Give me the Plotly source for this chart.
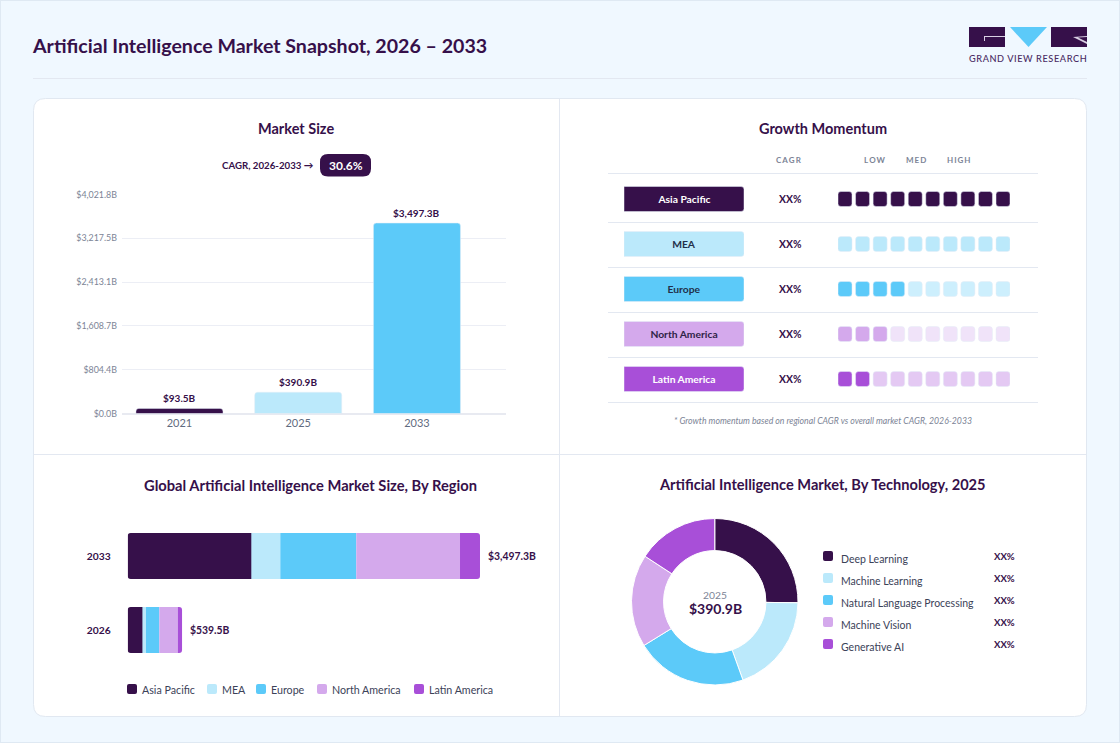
import plotly.graph_objects as go

W, H = 1120, 743
FONT = "Lato"
DARK = "#36104A"
SKY = "#BBE9FB"
BLUE = "#5CCAF9"
LILAC = "#D4A9EC"
PURPLE = "#A84FD8"
GREY = "#7C8496"
LINE = "#E3E8F1"

# ---- data ----
market_years = ["2021", "2025", "2033"]
market_values = [93.5, 390.9, 3497.3]
market_labels = ["$93.5B", "$390.9B", "$3,497.3B"]
market_colors = [DARK, SKY, BLUE]
market_ticks = [0, 804.4, 1608.7, 2413.1, 3217.5, 4021.8]
market_ticktext = ["$0.0B", "$804.4B", "$1,608.7B", "$2,413.1B", "$3,217.5B", "$4,021.8B"]

regions = ["Asia Pacific", "MEA", "Europe", "North America", "Latin America"]
region_colors = [DARK, SKY, BLUE, LILAC, PURPLE]
region_faded = ["#36104A", "#BBE9FB", "#CDEFFD", "#F0E3F9", "#E4C9F3"]
region_text = ["#FFFFFF", "#22304A", "#22304A", "#2F2347", "#FFFFFF"]
momentum_filled = [10, 10, 4, 3, 2]
momentum_total = 10
cagr_labels = ["XX%", "XX%", "XX%", "XX%", "XX%"]

stack_years = ["2033", "2026"]
stack_values = {
    "Asia Pacific": [1227, 146],
    "MEA": [288, 36],
    "Europe": [754, 132],
    "North America": [1030, 185],
    "Latin America": [198.3, 40.5],
}
stack_totals = [3497.3, 539.5]
stack_labels = ["$3,497.3B", "$539.5B"]

tech_names = ["Deep Learning", "Machine Learning", "Natural Language Processing", "Machine Vision", "Generative AI"]
tech_shares = [25.2, 19.3, 21.7, 18.0, 15.8]
tech_labels = ["XX%", "XX%", "XX%", "XX%", "XX%"]


def px(x):
    return x / W


def py(y):
    return 1 - y / H


def dx(a, b):
    return [px(a), px(b)]


def dy(top, bottom):
    return [py(bottom), py(top)]


def rrect(x0, y0, x1, y1, r, fill, line=None, lw=0):
    xa, xb, ya, yb = px(x0), px(x1), py(y0), py(y1)
    rx, ry = r / W, r / H
    path = (f"M{xa+rx},{ya} L{xb-rx},{ya} Q{xb},{ya} {xb},{ya-ry} L{xb},{yb+ry} Q{xb},{yb} {xb-rx},{yb} "
            f"L{xa+rx},{yb} Q{xa},{yb} {xa},{yb+ry} L{xa},{ya-ry} Q{xa},{ya} {xa+rx},{ya} Z")
    return dict(type="path", xref="paper", yref="paper", path=path, fillcolor=fill,
                line=dict(color=line or fill, width=lw), layer="below")


def hline(x0, x1, y, color=LINE, width=1):
    return dict(type="line", xref="paper", yref="paper", x0=px(x0), x1=px(x1), y0=py(y), y1=py(y),
                line=dict(color=color, width=width), layer="below")


def vline(x, y0, y1, color=LINE, width=1):
    return dict(type="line", xref="paper", yref="paper", x0=px(x), x1=px(x), y0=py(y0), y1=py(y1),
                line=dict(color=color, width=width), layer="below")


def poly(points, fill):
    p = "M" + " L".join(f"{px(a)},{py(b)}" for a, b in points) + " Z"
    return dict(type="path", xref="paper", yref="paper", path=p, fillcolor=fill, line=dict(width=0), layer="below")


def label(x, y, text, size, color=DARK, weight=400, anchor="center", style="normal"):
    return dict(xref="paper", yref="paper", x=px(x - 2 if anchor == "left" else x), y=py(y), text=text, showarrow=False,
                xanchor=anchor, yanchor="middle", font=dict(family=FONT, size=size, color=color, weight=weight, style=style))


fig = go.Figure()

# Market size bars
fig.add_bar(x=market_years, y=market_values, xaxis="x", yaxis="y", width=0.733,
            marker=dict(color=market_colors, cornerradius=3), cliponaxis=False, showlegend=False)

# Region pills
fig.add_bar(y=regions, x=[1] * len(regions), orientation="h", xaxis="x2", yaxis="y2", width=25 / 45,
            marker=dict(color=region_colors, cornerradius=3),
            text=regions, textposition="inside", insidetextanchor="middle", textangle=0,
            textfont=dict(family=FONT, size=10.3, color=region_text, weight=700), showlegend=False)

# Momentum segments
seg_y, seg_base, seg_color = [], [], []
for r, f, c, fade in zip(regions, momentum_filled, region_colors, region_faded):
    for i in range(momentum_total):
        seg_y.append(r)
        seg_base.append(i)
        seg_color.append(c if i < f else fade)
fig.add_bar(y=seg_y, x=[0.797] * len(seg_y), base=seg_base, orientation="h", xaxis="x3", yaxis="y2",
            width=15 / 45, marker=dict(color=seg_color, cornerradius=3), showlegend=False)

# Stacked regional bars: the two ends are rounded and slip under their inner neighbours
OVERLAP = 40
starts = {}
run = [0, 0]
for r in regions:
    starts[r] = list(run)
    run = [a + b for a, b in zip(run, stack_values[r])]
for r, c in [("Asia Pacific", DARK), ("Latin America", PURPLE), ("MEA", SKY), ("Europe", BLUE), ("North America", LILAC)]:
    vals = stack_values[r]
    base = starts[r]
    rad = 0
    if r == "Asia Pacific":
        vals = [v + OVERLAP for v in vals]
        rad = 3
    if r == "Latin America":
        base = [b - OVERLAP for b in base]
        vals = [v + OVERLAP for v in vals]
        rad = 3
    fig.add_bar(y=stack_years, x=vals, base=base, orientation="h", xaxis="x4", yaxis="y4", name=r,
                width=46 / 74, marker=dict(color=c, line=dict(width=0), cornerradius=rad), showlegend=False)

# Donut
fig.add_pie(labels=tech_names, values=tech_shares, hole=0.615, sort=False, direction="clockwise", rotation=0,
            marker=dict(colors=region_colors, line=dict(color="#FFFFFF", width=1)), textinfo="none",
            domain=dict(x=dx(631.5, 798), y=dy(518.5, 685)), showlegend=False)

shapes = [
    dict(type="rect", xref="paper", yref="paper", x0=0, x1=1, y0=0, y1=1, fillcolor="#F0F8FF",
         line=dict(color="#DFE9F3", width=2), layer="below"),
    hline(33, 1087, 78.5),
    rrect(33.5, 98.5, 1086.5, 716.5, 12, "#FFFFFF", "#E1E8F1", 1),
    vline(559.5, 99, 716),
    hline(34, 1086, 454.5),
    # logo
    poly([(969, 27), (1005, 27), (1005, 47), (969, 47)], DARK),
    hline(984, 1005, 36.5, "#D9CFE3", 1),
    vline(984.5, 36.5, 41, "#D9CFE3", 1),
    poly([(1010, 27), (1047, 27), (1028.5, 47)], BLUE),
    poly([(1051, 27), (1087, 27), (1087, 47), (1051, 47)], DARK),
    poly([(1073, 37), (1087, 36), (1087, 37), (1078, 37.5), (1087, 42), (1087, 44)], "#D9CFE3"),
    # CAGR badge
    rrect(320, 154, 371, 176.5, 8, DARK),
]
for y in [173.5, 222.5, 267.5, 312.5, 357.5, 402.5]:
    shapes.append(hline(608, 1038, y))

ann = [
    label(32, 45, "Artificial Intelligence Market Snapshot, 2026 – 2033", 19.6, DARK, 700, "left"),
    label(1028, 58.5, "G\u200aR\u200aA\u200aN\u200aD\u2009 V\u200aI\u200aE\u200aW\u2009 R\u200aE\u200aS\u200aE\u200aA\u200aR\u200aC\u200aH", 9.2, "#4A2B63", 500),
    label(296, 128.5, "Market Size", 14.5, DARK, 700),
    label(822.5, 128.5, "Growth Momentum", 14.5, DARK, 700),
    label(310, 484.5, "Global Artificial Intelligence Market Size, By Region", 14.7, DARK, 700),
    label(822.5, 484.5, "Artificial Intelligence Market, By Technology, 2025", 14.6, DARK, 700),
    label(267.5, 165, "CAGR, 2026-2033 →", 9.7, DARK, 700),
    label(345.5, 165, "30.6%", 12, "#FFFFFF", 700),
    label(789, 160, "C\u2009A\u2009G\u2009R", 8, GREY, 700),
    label(875, 160, "L\u2009O\u2009W", 8, GREY, 700),
    label(916, 160, "M\u2009E\u2009D", 8, GREY, 700),
    label(959, 160, "H\u2009I\u2009G\u2009H", 8, GREY, 700),
    label(822.5, 420, "* Growth momentum based on regional CAGR vs overall market CAGR, 2026-2033", 8.7, GREY, 400, "center", "italic"),
    label(715, 594.5, "2025", 10.3, GREY),
    label(715, 608.5, "$390.9B", 14, DARK, 700),
]

# Market size value labels
for i, (v, t) in enumerate(zip(market_values, market_labels)):
    ann.append(dict(xref="x", yref="y", x=i, y=v, text=t, showarrow=False, xanchor="center", yanchor="middle", yshift=10,
                    font=dict(family=FONT, size=10, color=DARK, weight=700)))

# CAGR column
for r, t in zip(regions, cagr_labels):
    ann.append(dict(xref="paper", yref="y2", x=px(790.5), y=r, text=t, showarrow=False, xanchor="center",
                    font=dict(family=FONT, size=10.4, color=DARK, weight=700)))

# Stack totals
for i, (tot, t) in enumerate(zip(stack_totals, stack_labels)):
    ann.append(dict(xref="x4", yref="y4", x=tot, y=i, text=t, showarrow=False, xanchor="left", xshift=6,
                    font=dict(family=FONT, size=10.4, color=DARK, weight=700)))

# Stack legend
leg_swatch = [127, 207, 256, 317, 414]
for r, c, x in zip(regions, region_colors, leg_swatch):
    shapes.append(rrect(x, 684, x + 10, 694, 2, c))
    ann.append(label(x + 15, 689, r, 10.7, "#3B4258", 400, "left"))

# Technology legend
for i, (n, c, t) in enumerate(zip(tech_names, region_colors, tech_labels)):
    y = 556 + 22 * i
    shapes.append(rrect(823, y - 5, 833, y + 5, 2, c))
    ann.append(label(841, y + 2.5, n, 10.5, "#3B4258", 400, "left"))
    ann.append(label(1004.5, y + 0.5, t, 9.6, DARK, 700))

hidden = dict(visible=False, fixedrange=True, automargin=False)
fig.update_layout(
    width=W, height=H, margin=dict(l=0, r=0, t=0, b=0), autosize=False,
    paper_bgcolor="#F0F8FF", plot_bgcolor="rgba(0,0,0,0)", barmode="overlay",
    font=dict(family=FONT), shapes=shapes, annotations=ann, hovermode=False,
    xaxis=dict(domain=dx(122, 506), type="category", range=[-0.484, 2.75], showgrid=False, automargin=False,
               showline=False, ticks="", tickfont=dict(family=FONT, size=11, color="#5F6B80"),
               anchor="y", ticklabelstandoff=1),
    yaxis=dict(domain=dy(194.5, 413.5), range=[0, 4021.8], tickvals=market_ticks, ticktext=market_ticktext, automargin=False,
               gridcolor="#ECEEF5", gridwidth=1, zeroline=True, zerolinecolor="#E8EAF1", showline=False,
               tickfont=dict(family=FONT, size=8.9, color=GREY), anchor="x", ticks="", ticklabelstandoff=4),
    xaxis2=dict(domain=dx(624, 744), range=[0, 1], anchor="y2", **hidden),
    yaxis2=dict(domain=dy(176.5, 401.5), type="category", categoryorder="array", categoryarray=regions,
                range=[4.5, -0.5], anchor="x2", **hidden),
    xaxis3=dict(domain=dx(838, 1010), range=[0, 9.797], anchor="y2", **hidden),
    xaxis4=dict(domain=dx(127.7, 480), range=[0, 3497.3], anchor="y4", **hidden),
    yaxis4=dict(domain=dy(519, 667), type="category", categoryorder="array", categoryarray=stack_years,
                range=[1.5, -0.5], anchor="x4", showline=False, showgrid=False, zeroline=False, ticks="", automargin=False,
                tickfont=dict(family=FONT, size=10.3, color=DARK, weight=700), ticklabelstandoff=16),
)

fig.write_html("out.html", config=dict(displayModeBar=False),
               post_script="document.body.style.margin='0';")
